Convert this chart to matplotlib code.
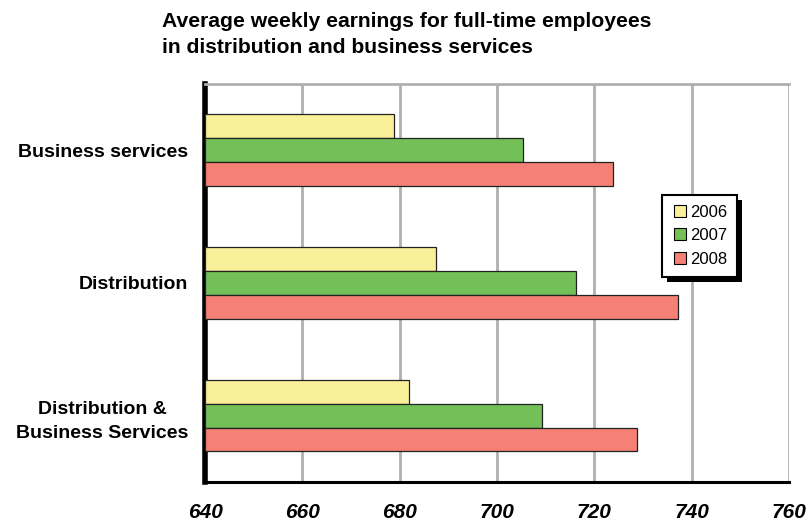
import numpy as np
import matplotlib.pyplot as plt
from matplotlib.lines import Line2D
from matplotlib.patches import Rectangle

plt.rcParams['font.family'] = ['Liberation Sans', 'DejaVu Sans']

categories = ["Business services", "Distribution", "Distribution &\nBusiness Services"]
years = ["2006", "2007", "2008"]
earnings_2006 = [678.9, 687.4, 682.0]
earnings_2007 = [705.3, 716.2, 709.2]
earnings_2008 = [723.8, 737.2, 728.8]
colors = ["#faf09a", "#72c057", "#f48076"]

fig = plt.figure(figsize=(8.07, 5.21), dpi=100)
ax = fig.add_axes([0.254, 0.075, 0.7237, 0.764])

y = np.arange(len(categories))
h = 0.18
series = [earnings_2006, earnings_2007, earnings_2008]
base = 640
for i, (vals, c, yr) in enumerate(zip(series, colors, years)):
    ax.barh(y + (i - 1) * h, np.array(vals) - base, left=base, height=h,
            color=c, edgecolor="#222222", linewidth=0.9, label=yr, zorder=3)

ax.set_xlim(640, 760)
ax.set_ylim(2.5, -0.5)
ax.set_xticks(range(640, 761, 20))
ax.set_yticks(y)
ax.set_yticklabels(categories, fontsize=14, fontweight="bold", ha="right",
                   multialignment="center", linespacing=1.6)
ax.tick_params(axis="y", length=0, pad=12)
ax.tick_params(axis="x", length=0, pad=15)
for lbl in ax.get_xticklabels():
    lbl.set_fontsize(15)
    lbl.set_fontweight("bold")
    lbl.set_fontstyle("italic")

ax.grid(axis="x", color="#b0b0b0", lw=2, zorder=0)
ax.spines["left"].set_linewidth(4)
ax.spines["left"].set_color("black")
ax.spines["bottom"].set_linewidth(2.2)
ax.spines["bottom"].set_color("black")
ax.spines["top"].set_color("#b0b0b0")
ax.spines["top"].set_linewidth(2)
ax.spines["right"].set_visible(False)

# legend with small square keys and a hard black drop shadow
handles = [Line2D([], [], marker="s", ls="", markersize=8, markerfacecolor=c,
                  markeredgecolor="black", markeredgewidth=0.8, label=yr)
           for c, yr in zip(colors, years)]
leg = ax.legend(handles=handles, loc="upper left", bbox_to_anchor=(0.7825, 0.721),
                fontsize=12, frameon=True, fancybox=False, framealpha=1,
                handlelength=1.0, handletextpad=0.1, labelspacing=0.5,
                borderpad=0.6, borderaxespad=0)
leg.get_frame().set_edgecolor("black")
leg.get_frame().set_linewidth(1.5)
leg.set_zorder(6)

fig.canvas.draw()
bb = leg.get_frame().get_window_extent().transformed(fig.transFigure.inverted())
shadow = Rectangle((bb.x0 + 5 / 807, bb.y0 - 5 / 521), bb.width, bb.height,
                   transform=fig.transFigure, facecolor="black",
                   edgecolor="none", zorder=5, clip_on=False)
ax.add_artist(shadow)

fig.text(0.201, 0.977, "Average weekly earnings for full-time employees\nin distribution and business services",
         fontsize=15.2, fontweight="bold", ha="left", va="top", linespacing=1.45)

fig.savefig("out.png", dpi=100)
